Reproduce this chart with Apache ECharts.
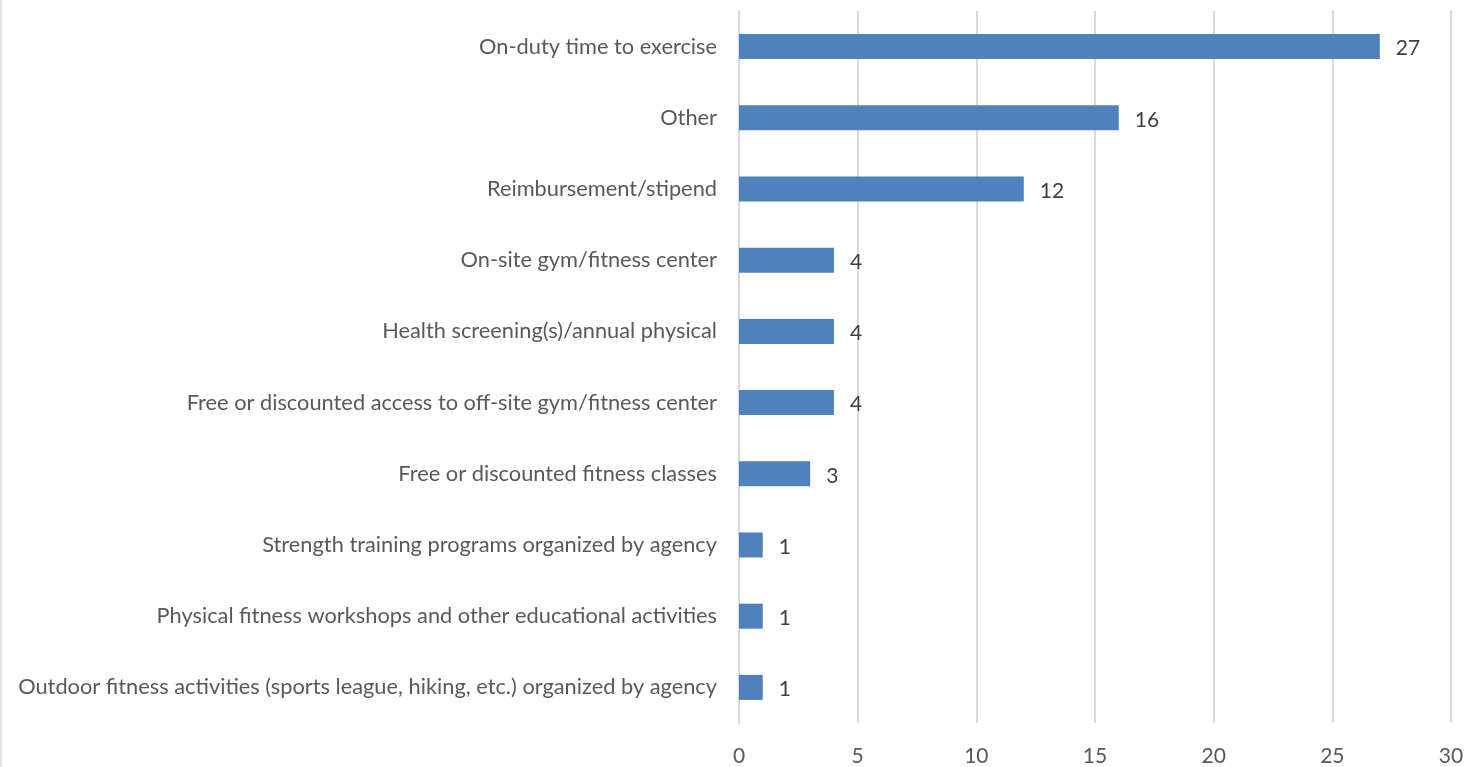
<!DOCTYPE html>
<html>
<head>
<meta charset="utf-8">
<script src="https://cdn.jsdelivr.net/npm/echarts@6/dist/echarts.min.js"></script>
<style>
  html, body { margin: 0; padding: 0; background: #fff; }
  #chart { width: 1483px; height: 767px; }
</style>
</head>
<body>
<div id="chart"></div>
<script>
// Programs offered, listed bottom-to-top as drawn on the category axis
const categories = [
  'Outdoor fitness activities (sports league, hiking, etc.) organized by agency',
  'Physical fitness workshops and other educational activities',
  'Strength training programs organized by agency',
  'Free or discounted fitness classes',
  'Free or discounted access to off-site gym/fitness center',
  'Health screening(s)/annual physical',
  'On-site gym/fitness center',
  'Reimbursement/stipend',
  'Other',
  'On-duty time to exercise'
];
const counts = [1, 1, 1, 3, 4, 4, 4, 12, 16, 27];

const axisMin = 0;
const axisMax = 30;
const axisStep = 5;

const chart = echarts.init(document.getElementById('chart'), null, { renderer: 'canvas' });
chart.setOption({
  animation: false,
  backgroundColor: '#ffffff',
  textStyle: { fontFamily: 'Lato, Open Sans, sans-serif' },
  graphic: [{
    type: 'line',
    shape: { x1: 1, y1: 0, x2: 1, y2: 767 },
    style: { stroke: '#e3e3e3', lineWidth: 2 }
  }],
  grid: { left: 739, right: 32, top: 11, bottom: 40, containLabel: false },
  xAxis: {
    type: 'value',
    min: axisMin,
    max: axisMax,
    interval: axisStep,
    axisLine: { show: false },
    axisTick: { show: false },
    splitLine: { show: true, lineStyle: { color: '#d9d9d9', width: 2 } },
    axisLabel: { color: '#595959', fontSize: 21, margin: 23 }
  },
  yAxis: {
    type: 'category',
    data: categories,
    axisLine: { show: true, lineStyle: { color: '#d9d9d9', width: 2 } },
    axisTick: { show: false },
    axisLabel: { color: '#595959', fontSize: 21.8, margin: 22 }
  },
  series: [{
    type: 'bar',
    data: counts,
    barWidth: 25,
    itemStyle: { color: '#4f81bd' },
    label: {
      show: true,
      position: 'right',
      distance: 16,
      color: '#404040',
      fontSize: 21,
      offset: [0, 2]
    }
  }]
});
</script>
</body>
</html>
